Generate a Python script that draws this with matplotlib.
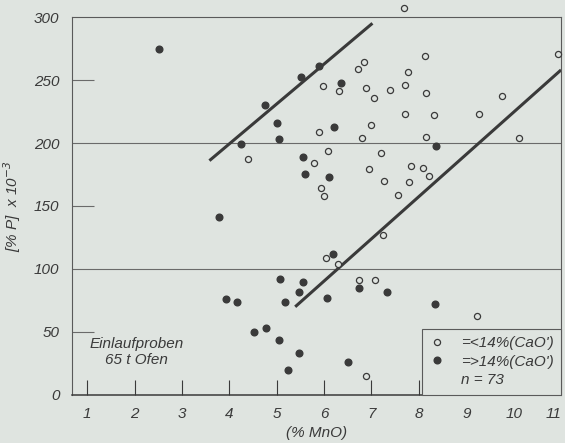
import matplotlib
matplotlib.use("Agg")
from matplotlib import pyplot as plt
from matplotlib.lines import Line2D

plt.rcParams['font.family'] = ['Liberation Sans', 'DejaVu Sans']
plt.rcParams['font.style'] = 'italic'

ink = '#3a3a3a'
paper = '#dfe4e0'

# filled: CaO' > 14 %
mno_hi = [2.52, 4.76, 5.01, 5.05, 4.24, 3.79, 5.52, 5.90, 6.36, 6.20, 8.36,
          5.56, 5.59, 6.10, 3.94, 4.17, 5.08, 5.17, 4.53, 4.77, 5.04, 5.24,
          6.19, 5.55, 5.46, 6.73, 7.33, 6.06, 8.35, 5.46, 6.50]
p_hi = [275, 230, 216, 203, 199, 141, 252, 261, 248, 213, 198,
        189, 175, 173, 76, 74, 92, 74, 50, 53, 44, 20,
        112, 90, 82, 85, 82, 77, 72, 33, 26]

# open: CaO' < 14 %
mno_lo = [7.68, 5.97, 6.32, 6.72, 6.85, 6.89, 7.06, 7.39, 7.70, 7.78, 8.13,
          8.16, 7.71, 8.32, 9.26, 9.75, 10.94, 10.12, 5.89, 6.98, 6.79, 8.14,
          6.08, 5.78, 7.20, 6.95, 7.84, 8.09, 8.22, 7.27, 7.80, 7.57, 5.93,
          6.00, 4.39, 7.25, 6.04, 6.29, 6.74, 7.07, 9.22, 6.89]
p_lo = [307, 245, 241, 259, 264, 244, 236, 242, 246, 256, 269,
        240, 223, 222, 223, 237, 271, 204, 209, 214, 204, 205,
        194, 184, 192, 179, 182, 180, 174, 170, 169, 159, 164,
        158, 187, 127, 109, 104, 91, 91, 63, 15]

# boundary lines
upper_x = [3.58, 7.02]
upper_y = [186, 295]
lower_x = [5.39, 11.0]
lower_y = [70, 258]

xticks = [1, 2, 3, 4, 5, 6, 7, 8, 9, 10, 11]
yticks = [0, 50, 100, 150, 200, 250, 300]

fig = plt.figure(figsize=(5.65, 4.43), dpi=100, facecolor=paper)
ax = fig.add_axes([0.1274, 0.1084, 0.8656, 0.8532], facecolor=paper)
ax.set_xlim(0.68, 11.0)
ax.set_ylim(0, 300)

for y in [100, 200]:
    ax.axhline(y, color='#6a6a6a', lw=0.8, zorder=1)

ax.plot(upper_x, upper_y, color=ink, lw=2.2, solid_capstyle='butt', zorder=2)
ax.plot(lower_x, lower_y, color=ink, lw=2.2, solid_capstyle='butt', zorder=2)

ax.plot(mno_hi, p_hi, 'o', ms=4.8, color=ink, mec=ink, zorder=3, clip_on=False)
ax.plot(mno_lo, p_lo, 'o', ms=4.4, mfc=paper, mec=ink, mew=0.9, zorder=3, clip_on=False)

ax.set_xticks(xticks)
ax.set_xticklabels([str(t) for t in xticks])
ax.tick_params(axis='x', direction='in', length=11, width=0.8, color=ink,
               labelcolor=ink, labelsize=11, pad=9)
ax.set_yticks(yticks)
ax.set_yticklabels([str(t) for t in yticks])
ax.tick_params(axis='y', direction='in', length=16, width=0.8, color='#6a6a6a',
               labelcolor=ink, labelsize=11, pad=9)
for t in ax.yaxis.get_major_ticks():
    if t.get_loc() in (0, 100, 200, 300):
        t.tick1line.set_visible(False)
for t in ax.xaxis.get_major_ticks():
    if t.get_loc() == 11:
        t.tick1line.set_visible(False)
        t.label1.set_horizontalalignment('right')

for s in ax.spines.values():
    s.set_color('#5a5a5a')
    s.set_linewidth(0.8)
ax.spines['bottom'].set_color(ink)
ax.spines['bottom'].set_linewidth(1.1)

ax.set_xlabel('(% MnO)', color=ink, fontsize=11, labelpad=3)
ax.set_ylabel('[% P]  x 10$^{-3}$', color=ink, fontsize=11, labelpad=8)

ax.text(2.05, 34, 'Einlaufproben\n65 t Ofen', ha='center', va='center',
        color=ink, fontsize=11, linespacing=1.15)

handles = [Line2D([], [], ls='', marker='o', ms=4.4, mfc=paper, mec=ink, mew=0.9),
           Line2D([], [], ls='', marker='o', ms=4.8, color=ink),
           Line2D([], [], ls='')]
leg = ax.legend(handles, ["=<14%(CaO')", "=>14%(CaO')", 'n = 73'],
                loc='lower right', borderaxespad=0, fancybox=False,
                edgecolor='#5a5a5a', facecolor=paper, framealpha=1,
                handlelength=0.9, handletextpad=1.1, labelspacing=0.3,
                fontsize=11, borderpad=0.5, labelcolor=ink)
leg.get_frame().set_linewidth(0.8)
leg.set_zorder(2.5)

fig.savefig('out.png', dpi=100, facecolor=paper)
